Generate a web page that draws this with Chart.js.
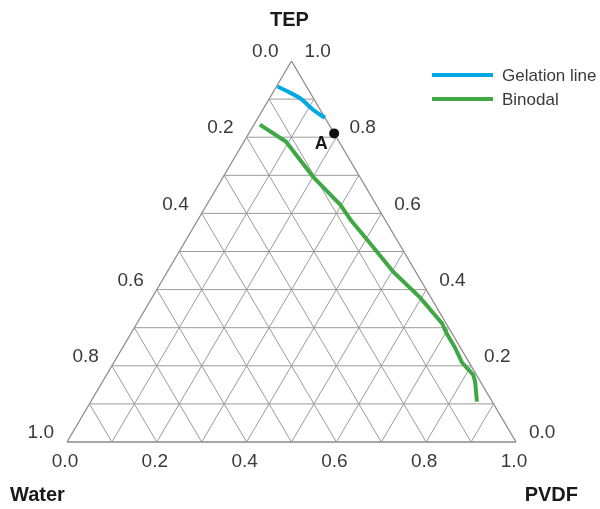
<!DOCTYPE html>
<html>
<head>
<meta charset="utf-8">
<script src="https://cdn.jsdelivr.net/npm/chart.js@4.4.1/dist/chart.umd.min.js"></script>
<style>
  html, body { margin: 0; padding: 0; background: #ffffff; }
  canvas { display: block; }
</style>
</head>
<body>
<canvas id="c" width="600" height="509"></canvas>
<script>
// ---- Data (ternary compositions: PVDF fraction, TEP fraction; Water = 1 - PVDF - TEP) ----
const gridSteps = [0.1, 0.2, 0.3, 0.4, 0.5, 0.6, 0.7, 0.8, 0.9];
const tickValues = [0.0, 0.2, 0.4, 0.6, 0.8, 1.0];
const axisNames = { top: 'TEP', left: 'Water', right: 'PVDF' };

const gelationPVDF = [0.002, 0.038, 0.070, 0.112, 0.149];
const gelationTEP  = [0.933, 0.917, 0.901, 0.872, 0.851];

const binodalPVDF = [0.013, 0.094, 0.109, 0.200, 0.297, 0.339, 0.403, 0.503, 0.597, 0.680, 0.704, 0.740, 0.776, 0.816, 0.830, 0.860];
const binodalTEP  = [0.833, 0.788, 0.775, 0.696, 0.623, 0.584, 0.531, 0.447, 0.379, 0.311, 0.284, 0.248, 0.208, 0.177, 0.158, 0.106];

const pointAPVDF = [0.19];
const pointATEP  = [0.81];
const pointALabel = 'A';

const seriesNames = ['Gelation line', 'Binodal'];
const seriesColors = ['#00a9e4', '#3fa845'];

// ---- ternary -> cartesian (x in base units, y = TEP height fraction) ----
function tern(p, t) { return { x: p + t / 2, y: t }; }

const datasets = [];
datasets.push({
  label: seriesNames[0],
  data: gelationPVDF.map((p, i) => tern(p, gelationTEP[i])),
  showLine: true, borderColor: seriesColors[0], borderWidth: 4, pointRadius: 0,
  tension: 0.4, cubicInterpolationMode: 'monotone',
  borderCapStyle: 'butt', borderJoinStyle: 'round', order: 1, clip: false
});
datasets.push({
  label: seriesNames[1],
  data: binodalPVDF.map((p, i) => tern(p, binodalTEP[i])),
  showLine: true, borderColor: seriesColors[1], borderWidth: 4, pointRadius: 0,
  borderCapStyle: 'butt', borderJoinStyle: 'round', order: 1, clip: false
});
datasets.push({
  label: 'A',
  data: pointAPVDF.map((p, i) => tern(p, pointATEP[i])),
  showLine: false, pointRadius: 5, pointBackgroundColor: '#111', pointBorderColor: '#111',
  borderWidth: 0, order: 0, clip: false
});

function seg(a, b, color, w) {
  datasets.push({
    data: [a, b], showLine: true, borderColor: color, borderWidth: w,
    pointRadius: 0, order: 10, clip: false
  });
}
const gridColor = '#9a9a9a';
gridSteps.forEach(k => {
  seg(tern(0, k), tern(1 - k, k), gridColor, 1);      // constant TEP
  seg(tern(k, 0), tern(k, 1 - k), gridColor, 1);      // constant PVDF
  seg(tern(1 - k, 0), tern(0, 1 - k), gridColor, 1);  // constant Water
});
const edgeColor = '#8a8a8a';
seg(tern(0, 0), tern(1, 0), edgeColor, 1.3);
seg(tern(1, 0), tern(0, 1), edgeColor, 1.3);
seg(tern(0, 1), tern(0, 0), edgeColor, 1.3);

const labelPlugin = {
  id: 'ternaryLabels',
  afterDatasetsDraw(chart) {
    const ctx = chart.ctx;
    const xs = chart.scales.x, ys = chart.scales.y;
    const px = (pt) => ({ x: xs.getPixelForValue(pt.x), y: ys.getPixelForValue(pt.y) });
    ctx.save();
    ctx.font = '19px "Liberation Sans", Arial, sans-serif';
    ctx.fillStyle = '#3a3a3a';
    ctx.textBaseline = 'middle';
    tickValues.forEach(v => {
      const lab = v.toFixed(1);
      let q = px(tern(0, 1 - v));          // Water on left edge
      ctx.textAlign = 'right';
      ctx.fillText(lab, q.x - 13, q.y - 9);
      q = px(tern(1 - v, v));              // TEP on right edge
      ctx.textAlign = 'left';
      ctx.fillText(lab, q.x + 13, q.y - 9);
      q = px(tern(v, 0));                  // PVDF on bottom
      ctx.textAlign = 'center';
      ctx.fillText(lab, q.x - 2, q.y + 20);
    });
    ctx.font = 'bold 20px "Liberation Sans", Arial, sans-serif';
    ctx.fillStyle = '#1a1a1a';
    ctx.textAlign = 'center';
    const top = px(tern(0, 1));
    ctx.fillText(axisNames.top, top.x - 2, 20);
    ctx.textAlign = 'left';
    ctx.fillText(axisNames.left, 10, 495);
    ctx.textAlign = 'right';
    ctx.fillText(axisNames.right, 578, 495);
    const a = px(tern(pointAPVDF[0], pointATEP[0]));
    ctx.textAlign = 'center';
    ctx.font = 'bold 18px "Liberation Sans", Arial, sans-serif';
    ctx.fillText(pointALabel, a.x - 13, a.y + 11);
    ctx.font = '17px "Liberation Sans", Arial, sans-serif';
    ctx.fillStyle = '#3a3a3a';
    ctx.textAlign = 'left';
    const legY = [75, 99];
    seriesNames.forEach((n, i) => {
      ctx.strokeStyle = seriesColors[i];
      ctx.lineWidth = 4;
      ctx.beginPath();
      ctx.moveTo(432, legY[i]);
      ctx.lineTo(493, legY[i]);
      ctx.stroke();
      ctx.fillText(n, 502, legY[i] + 1);
    });
    ctx.restore();
  }
};

new Chart(document.getElementById('c'), {
  type: 'scatter',
  data: { datasets },
  options: {
    responsive: false,
    animation: false,
    layout: { padding: { left: 67, right: 84, top: 61, bottom: 67 } },
    scales: {
      x: { type: 'linear', min: 0, max: 1, display: false },
      y: { type: 'linear', min: 0, max: 1, display: false }
    },
    plugins: { legend: { display: false }, tooltip: { enabled: false } }
  },
  plugins: [labelPlugin]
});
</script>
</body>
</html>
